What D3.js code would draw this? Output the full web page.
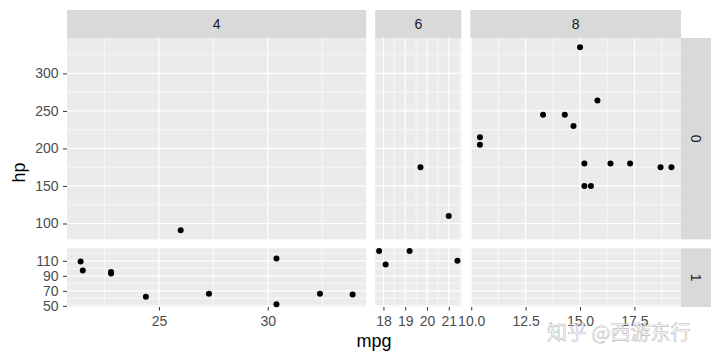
<!DOCTYPE html>
<html><head><meta charset="utf-8">
<script src="https://cdn.jsdelivr.net/npm/d3@7"></script>
<style>body{margin:0;background:#fff}svg{display:block;font-family:"Liberation Sans",Arial,sans-serif}</style>
</head><body><svg id="c" width="720" height="360"></svg>
<script>
// columns (cyl) and rows (am)
const cylLevels = ["4","6","8"];
const amLevels = ["0","1"];
// points: mpg, hp, cyl, am (as shown in the picture)
const mpg = [26.0, 21.4,21.5,22.8,22.8,24.4,27.3,30.4,30.4,32.4,33.9,
             19.7,21.0, 17.8,18.1,19.2,21.4,
             10.4,10.4,13.3,14.3,14.7,15.0,15.2,15.2,15.5,15.8,16.4,17.3,18.7,19.2];
const hp  = [91, 109,97,93,95,62,66,113,52,66,65,
             175,110, 123,105,123,110,
             205,215,245,245,230,335,180,150,150,264,180,180,175,175];
const cyl = ["4","4","4","4","4","4","4","4","4","4","4",
             "6","6","6","6","6","6",
             "8","8","8","8","8","8","8","8","8","8","8","8","8","8"];
const am  = ["0","1","1","1","1","1","1","1","1","1","1",
             "0","0","1","1","1","1",
             "0","0","0","0","0","0","0","0","0","0","0","0","0","0"];
// tick labels
const xTicks = {"4":[25,30], "6":[18,19,20,21], "8":[10,12.5,15,17.5]};
const xMinor = {"4":[22.5,27.5,32.5], "6":[18.5,19.5,20.5,21.5], "8":[11.25,13.75,16.25,18.75]};
const yTicks = {"0":[100,150,200,250,300], "1":[50,70,90,110]};
const yMinor = {"0":[75,125,175,225,275,325], "1":[60,80,100,120]};

(function(){
const xFmt = {"4":d3.format("d"), "6":d3.format("d"), "8":d3.format(".1f")};
const data = mpg.map((m,i)=>({mpg:m, hp:hp[i], cyl:cyl[i], am:am[i]}));
const svg = d3.select("#c");

const pL = 67, pR = 681, pT = 38, pB = 307, gap = 9, stripH = 28, stripW = 30;
const FONT = "Liberation Sans, Arial, sans-serif";
function expand(ext){const r=ext[1]-ext[0];return [ext[0]-0.05*r, ext[1]+0.05*r];}
const xDom = {}, yDom = {};
cylLevels.forEach(c=>xDom[c]=expand(d3.extent(data.filter(d=>d.cyl===c),d=>d.mpg)));
amLevels.forEach(a=>yDom[a]=expand(d3.extent(data.filter(d=>d.am===a),d=>d.hp)));
const wSum = d3.sum(cylLevels,c=>xDom[c][1]-xDom[c][0]);
const hSum = d3.sum(amLevels,a=>yDom[a][1]-yDom[a][0]);
const availW = pR-pL-gap*(cylLevels.length-1), availH = pB-pT-gap*(amLevels.length-1);
const xS = {}, yS = {};
let cx = pL;
cylLevels.forEach(c=>{const w=(xDom[c][1]-xDom[c][0])/wSum*availW; xS[c]=d3.scaleLinear().domain(xDom[c]).range([cx,cx+w]); cx+=w+gap;});
let cy = pT;
amLevels.forEach(a=>{const h=(yDom[a][1]-yDom[a][0])/hSum*availH; yS[a]=d3.scaleLinear().domain(yDom[a]).range([cy+h,cy]); cy+=h+gap;});

const grey="#4D4D4D";
cylLevels.forEach(c=>{
  const x=xS[c], [x0,x1]=x.range();
  svg.append("rect").attr("x",x0).attr("y",pT-stripH).attr("width",x1-x0).attr("height",stripH).attr("fill","#D9D9D9");
  svg.append("text").attr("x",(x0+x1)/2).attr("y",pT-stripH/2).attr("dy","0.36em").attr("text-anchor","middle")
     .attr("font-size",14).attr("fill","#1A1A1A").text(c);
  amLevels.forEach(a=>{
    const y=yS[a], [y1,y0]=y.range();
    const g=svg.append("g");
    g.append("rect").attr("x",x0).attr("y",y0).attr("width",x1-x0).attr("height",y1-y0).attr("fill","#EBEBEB");
    g.selectAll(".ym").data(yMinor[a].filter(v=>v>=yDom[a][0]&&v<=yDom[a][1])).join("line").attr("class","ym")
      .attr("x1",x0).attr("x2",x1).attr("y1",d=>y(d)).attr("y2",d=>y(d)).attr("stroke","#fff").attr("stroke-width",0.6);
    g.selectAll(".xm").data(xMinor[c].filter(v=>v>=xDom[c][0]&&v<=xDom[c][1])).join("line").attr("class","xm")
      .attr("y1",y0).attr("y2",y1).attr("x1",d=>x(d)).attr("x2",d=>x(d)).attr("stroke","#fff").attr("stroke-width",0.6);
    g.selectAll(".yM").data(yTicks[a]).join("line").attr("class","yM")
      .attr("x1",x0).attr("x2",x1).attr("y1",d=>y(d)).attr("y2",d=>y(d)).attr("stroke","#fff").attr("stroke-width",1.2);
    g.selectAll(".xM").data(xTicks[c]).join("line").attr("class","xM")
      .attr("y1",y0).attr("y2",y1).attr("x1",d=>x(d)).attr("x2",d=>x(d)).attr("stroke","#fff").attr("stroke-width",1.2);
    g.selectAll("circle").data(data.filter(d=>d.cyl===c&&d.am===a)).join("circle")
      .attr("cx",d=>x(d.mpg)).attr("cy",d=>y(d.hp)).attr("r",3).attr("fill","#000");
  });
  const ax=svg.append("g").attr("transform",`translate(0,${pB})`)
    .call(d3.axisBottom(x).tickValues(xTicks[c]).tickFormat(xFmt[c]).tickSize(3.5).tickPadding(5.5));
  ax.select(".domain").remove();
  ax.selectAll("line").attr("stroke","#333");
  ax.selectAll("text").attr("fill",grey).attr("font-size",14).attr("font-family",FONT);
});
amLevels.forEach(a=>{
  const y=yS[a], [y1,y0]=y.range();
  svg.append("rect").attr("x",pR).attr("y",y0).attr("width",stripW).attr("height",y1-y0).attr("fill","#D9D9D9");
  svg.append("text").attr("transform",`translate(${pR+stripW/2},${(y0+y1)/2}) rotate(90)`).attr("dy","0.36em")
     .attr("text-anchor","middle").attr("font-size",14).attr("fill","#1A1A1A").text(a);
  const ax=svg.append("g").attr("transform",`translate(${pL},0)`)
    .call(d3.axisLeft(y).tickValues(yTicks[a]).tickSize(4).tickPadding(4.5));
  ax.select(".domain").remove();
  ax.selectAll("line").attr("stroke","#333");
  ax.selectAll("text").attr("fill",grey).attr("font-size",14).attr("font-family",FONT);
});
svg.append("text").attr("x",(pL+pR)/2).attr("y",347).attr("text-anchor","middle").attr("font-size",18).attr("fill","#000").text("mpg");
svg.append("text").attr("transform",`translate(25,${(pT+pB)/2}) rotate(-90)`).attr("text-anchor","middle").attr("font-size",18).attr("fill","#000").text("hp");
svg.append("text").attr("x",547).attr("y",340).attr("font-size",20).attr("font-family","Noto Sans CJK SC")
  .attr("fill","#fff").attr("fill-opacity",0.6).attr("stroke","#9a9a9a").attr("stroke-width",0.6).attr("stroke-opacity",0.7).text("知乎 @西游东行");
})();
</script></body></html>
